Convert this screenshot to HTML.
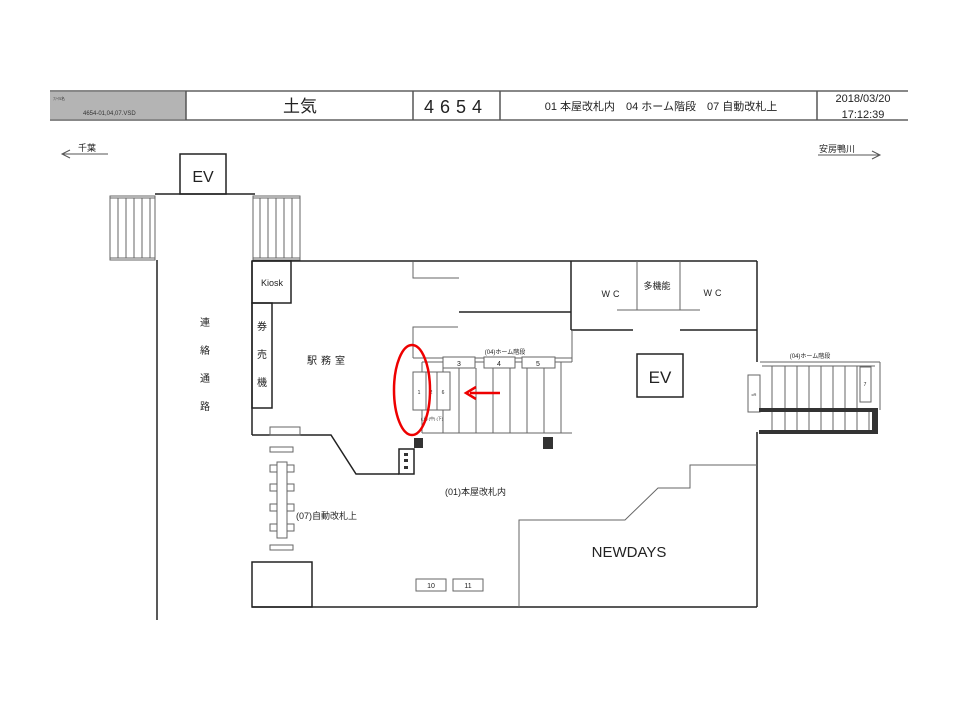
<!DOCTYPE html>
<html><head><meta charset="utf-8"><style>
body{margin:0;background:#fff;}
svg{display:block;font-family:"Liberation Sans","Noto Sans CJK JP",sans-serif;}
</style></head><body>
<svg width="960" height="720" viewBox="0 0 960 720" xmlns="http://www.w3.org/2000/svg">
<!-- header -->
<rect x="50" y="91" width="136" height="29" fill="#b4b4b4"/>
<line x1="50" y1="91" x2="908" y2="91" stroke="#888" stroke-width="2"/>
<line x1="50" y1="120" x2="908" y2="120" stroke="#888" stroke-width="2"/>
<g stroke="#555" stroke-width="1.5">
<line x1="186" y1="91" x2="186" y2="120"/><line x1="413" y1="91" x2="413" y2="120"/>
<line x1="500" y1="91" x2="500" y2="120"/><line x1="817" y1="91" x2="817" y2="120"/>
</g>
<text x="53" y="100" font-size="4" fill="#333">ﾌｧｲﾙ名</text>
<text x="83" y="115" font-size="6" fill="#333">4654-01,04,07.VSD</text>
<text x="300" y="112" font-size="17" text-anchor="middle" fill="#222">土気</text>
<text x="456" y="113" font-size="18" text-anchor="middle" fill="#222" letter-spacing="6">4654</text>
<text x="661" y="110" font-size="11" text-anchor="middle" fill="#222">01 本屋改札内　04 ホーム階段　07 自動改札上</text>
<text x="863" y="102" font-size="11" text-anchor="middle" fill="#222">2018/03/20</text>
<text x="863" y="118" font-size="11" text-anchor="middle" fill="#222">17:12:39</text>
<!-- direction arrows -->
<g stroke="#555" stroke-width="1" fill="none">
<polyline points="108,154 62,154"/><polyline points="70,150 62,154 70,158"/>
<polyline points="818,155 880,155"/><polyline points="872,151 880,155 872,159"/>
</g>
<text x="78" y="151" font-size="9" fill="#222">千葉</text>
<text x="819" y="152" font-size="9" fill="#222">安房鴨川</text>
<!-- EV top-left -->
<g fill="none" stroke="#222" stroke-width="1.5">
<rect x="180" y="154" width="46" height="40"/>
<line x1="155" y1="194" x2="255" y2="194"/>
<line x1="157" y1="260" x2="157" y2="620"/>
</g>
<text x="203" y="182" font-size="16" text-anchor="middle" fill="#222">EV</text>
<!-- side stairs -->
<g fill="none" stroke="#666" stroke-width="1">
<rect x="110" y="196" width="45" height="64"/>
<line x1="110" y1="198" x2="155" y2="198"/><line x1="110" y1="258" x2="155" y2="258"/>
<line x1="118" y1="198" x2="118" y2="258"/><line x1="126" y1="198" x2="126" y2="258"/><line x1="134" y1="198" x2="134" y2="258"/><line x1="142" y1="198" x2="142" y2="258"/><line x1="150" y1="198" x2="150" y2="258"/>
<rect x="253" y="196" width="47" height="64"/>
<line x1="253" y1="198" x2="300" y2="198"/><line x1="253" y1="258" x2="300" y2="258"/>
<line x1="260" y1="198" x2="260" y2="258"/><line x1="268" y1="198" x2="268" y2="258"/><line x1="276" y1="198" x2="276" y2="258"/><line x1="284" y1="198" x2="284" y2="258"/><line x1="292" y1="198" x2="292" y2="258"/>
</g>
<!-- main building -->
<g fill="none" stroke="#222" stroke-width="1.5">
<line x1="252" y1="261" x2="757" y2="261"/>
<line x1="252" y1="261" x2="252" y2="435"/>
<rect x="252" y="261" width="39" height="42"/>
<rect x="252" y="303" width="20" height="105"/>
<polyline points="252,435 331,435 356,474 399,474"/>
<rect x="399" y="449" width="15" height="25"/>
<rect x="252" y="562" width="60" height="45"/>
<line x1="252" y1="607" x2="757" y2="607"/>
<line x1="757" y1="261" x2="757" y2="362"/>
<line x1="757" y1="432" x2="757" y2="607"/>
<line x1="571" y1="261" x2="571" y2="330"/>
<line x1="571" y1="330" x2="633" y2="330"/><line x1="680" y1="330" x2="757" y2="330"/>
<line x1="459" y1="312" x2="571" y2="312"/>
<rect x="637" y="354" width="46" height="43"/>
</g>
<g fill="none" stroke="#666" stroke-width="1">
<rect x="270" y="427" width="30" height="8"/>
<line x1="637" y1="261" x2="637" y2="310"/><line x1="680" y1="261" x2="680" y2="310"/>
<line x1="617" y1="310" x2="700" y2="310"/>
<polyline points="413,262 413,278 459,278"/>
<polyline points="413,358 413,327 458,327"/>
<polyline points="519,607 519,520 625,520 658,488 690,488 690,465 757,465"/>
<!-- central stairs -->
<line x1="413" y1="358" x2="572" y2="358"/>
<line x1="422" y1="362" x2="572" y2="362"/>
<line x1="572" y1="330" x2="572" y2="362"/>
<line x1="422" y1="362" x2="422" y2="433"/>
<line x1="422" y1="433" x2="572" y2="433"/>
<line x1="443" y1="362" x2="443" y2="433"/><line x1="459" y1="368" x2="459" y2="433"/><line x1="476" y1="368" x2="476" y2="433"/><line x1="493" y1="368" x2="493" y2="433"/><line x1="510" y1="368" x2="510" y2="433"/><line x1="527" y1="368" x2="527" y2="433"/><line x1="544" y1="368" x2="544" y2="433"/><line x1="561" y1="362" x2="561" y2="433"/>
<rect x="443" y="357" width="32" height="11" fill="#fff"/>
<rect x="484" y="357" width="31" height="11" fill="#fff"/>
<rect x="522" y="357" width="33" height="11" fill="#fff"/>
<rect x="413" y="372" width="13" height="38" fill="#fff"/>
<rect x="426" y="372" width="11" height="38" fill="#fff"/>
<rect x="437" y="372" width="13" height="38" fill="#fff"/>
<!-- gates 07 -->
<rect x="270" y="447" width="23" height="5"/>
<rect x="270" y="545" width="23" height="5"/>
<rect x="270" y="465" width="24" height="7"/><rect x="270" y="484" width="24" height="7"/><rect x="270" y="504" width="24" height="7"/><rect x="270" y="524" width="24" height="7"/>
<rect x="277" y="462" width="10" height="76" fill="#fff"/>
<rect x="416" y="579" width="30" height="12"/><rect x="453" y="579" width="30" height="12"/>
<!-- right stairs -->
<line x1="760" y1="362" x2="880" y2="362"/>
<line x1="880" y1="362" x2="880" y2="410"/>
<line x1="762" y1="366" x2="875" y2="366"/>
<line x1="772" y1="366" x2="772" y2="432"/><line x1="785" y1="366" x2="785" y2="432"/><line x1="797" y1="366" x2="797" y2="432"/><line x1="809" y1="366" x2="809" y2="432"/><line x1="821" y1="366" x2="821" y2="432"/><line x1="833" y1="366" x2="833" y2="432"/><line x1="845" y1="366" x2="845" y2="432"/><line x1="857" y1="366" x2="857" y2="432"/><line x1="869" y1="410" x2="869" y2="432"/>
<rect x="748" y="375" width="12" height="37" fill="#fff"/>
<rect x="860" y="367" width="11" height="35" fill="#fff"/>
</g>
<g fill="#333">
<rect x="414" y="438" width="9" height="10"/>
<rect x="543" y="437" width="10" height="12"/>
<rect x="759" y="408" width="117" height="4"/>
<rect x="759" y="430" width="117" height="4"/>
<rect x="872" y="408" width="6" height="26"/>
<rect x="404" y="453" width="4" height="3"/><rect x="404" y="459" width="4" height="3"/><rect x="404" y="466" width="4" height="3"/>
</g>
<!-- labels -->
<g fill="#222">
<text x="272" y="286" font-size="9" text-anchor="middle">Kiosk</text>
<text x="262" y="330" font-size="10" text-anchor="middle">券</text>
<text x="262" y="358" font-size="10" text-anchor="middle">売</text>
<text x="262" y="386" font-size="10" text-anchor="middle">機</text>
<text x="205" y="326" font-size="10" text-anchor="middle">連</text>
<text x="205" y="354" font-size="10" text-anchor="middle">絡</text>
<text x="205" y="382" font-size="10" text-anchor="middle">通</text>
<text x="205" y="410" font-size="10" text-anchor="middle">路</text>
<text x="328" y="364" font-size="10" text-anchor="middle" letter-spacing="4">駅務室</text>
<text x="612" y="297" font-size="9" text-anchor="middle" letter-spacing="3">WC</text>
<text x="657" y="289" font-size="9" text-anchor="middle">多機能</text>
<text x="714" y="296" font-size="9" text-anchor="middle" letter-spacing="3">WC</text>
<text x="660" y="383" font-size="17" text-anchor="middle">EV</text>
<text x="505" y="354" font-size="6" text-anchor="middle">(04)ホーム階段</text>
<text x="810" y="358" font-size="6" text-anchor="middle">(04)ホーム階段</text>
<text x="459" y="366" font-size="7" text-anchor="middle">3</text>
<text x="499" y="366" font-size="7" text-anchor="middle">4</text>
<text x="538" y="366" font-size="7" text-anchor="middle">5</text>
<text x="419" y="394" font-size="5" text-anchor="middle">1</text>
<text x="431" y="394" font-size="5" text-anchor="middle">2</text>
<text x="443" y="394" font-size="5" text-anchor="middle">6</text>
<text x="432" y="420" font-size="4" text-anchor="middle">(上)  (中)  (下)</text>
<text x="754" y="396" font-size="4" text-anchor="middle">cR</text>
<text x="865" y="386" font-size="5" text-anchor="middle">7</text>
<text x="445" y="495" font-size="9">(01)本屋改札内</text>
<text x="296" y="519" font-size="9">(07)自動改札上</text>
<text x="431" y="588" font-size="7" text-anchor="middle">10</text>
<text x="468" y="588" font-size="7" text-anchor="middle">11</text>
<text x="629" y="557" font-size="15" text-anchor="middle">NEWDAYS</text>
</g>
<!-- red marks -->
<ellipse cx="412" cy="390" rx="18" ry="45" fill="none" stroke="#e00" stroke-width="2.5"/>
<line x1="500" y1="393" x2="470" y2="393" stroke="#e00" stroke-width="2.5"/>
<polyline points="476,387 466,393 476,399" fill="none" stroke="#e00" stroke-width="2.5"/>
</svg>
</body></html>
